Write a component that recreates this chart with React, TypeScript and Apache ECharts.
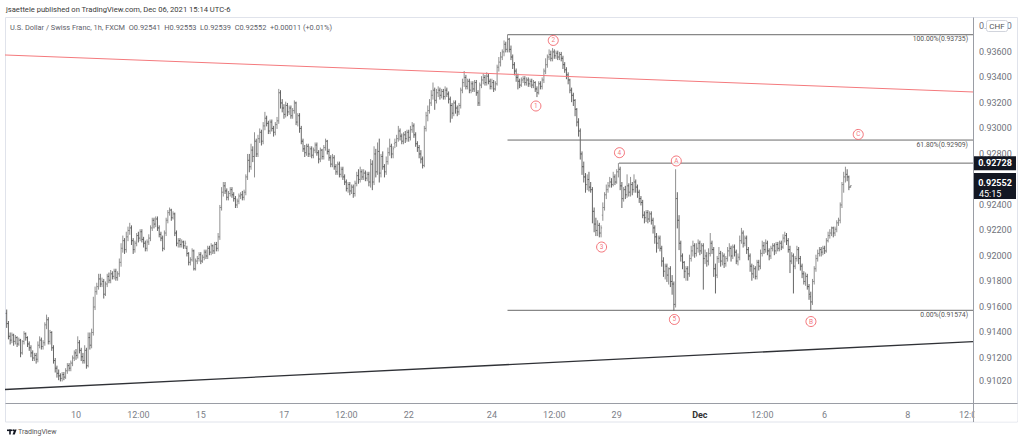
import React, { useEffect, useRef } from 'react';
import * as echarts from 'echarts';

// ---- USD/CHF 1h bars (Nov 8 08:00 .. Dec 6 15:00, UTC-6) ----
const opens = [
0.9155,0.9147,0.9137,0.9134,0.9138,0.9133,0.9136,0.9131,0.9134,0.9124,
0.9133,0.9139,0.9136,0.9131,0.9128,0.9124,0.9120,0.9122,0.9119,0.9130,
0.9134,0.9129,0.9132,0.9146,0.9150,0.9133,0.9140,0.9128,0.9118,0.9112,
0.9108,0.9106,0.9104,0.9107,0.9105,0.9110,0.9114,0.9112,0.9116,0.9120,
0.9124,0.9122,0.9132,0.9126,0.9121,0.9118,0.9126,0.9114,0.9136,0.9130,
0.9140,0.9160,0.9172,0.9176,0.9182,0.9178,0.9180,0.9170,0.9178,0.9184,
0.9181,0.9186,0.9184,0.9188,0.9183,0.9186,0.9195,0.9206,0.9212,0.9205,
0.9215,0.9220,0.9222,0.9212,0.9205,0.9210,0.9216,0.9214,0.9219,0.9213,
0.9210,0.9206,0.9211,0.9214,0.9222,0.9228,0.9225,0.9229,0.9222,0.9217,
0.9214,0.9206,0.9218,0.9228,0.9234,0.9236,0.9230,0.9233,0.9218,0.9210,
0.9212,0.9209,0.9211,0.9208,0.9206,0.9202,0.9195,0.9197,0.9204,0.9190,
0.9196,0.9198,0.9201,0.9196,0.9199,0.9203,0.9200,0.9206,0.9203,0.9208,
0.9204,0.9209,0.9206,0.9215,0.9238,0.9250,0.9255,0.9251,0.9246,0.9249,
0.9252,0.9248,0.9245,0.9240,0.9243,0.9247,0.9248,0.9246,0.9250,0.9262,
0.9275,0.9270,0.9283,0.9278,0.9290,0.9280,0.9292,0.9297,0.9290,0.9302,
0.9308,0.9304,0.9298,0.9305,0.9300,0.9297,0.9303,0.9306,0.9328,0.9320,
0.9316,0.9311,0.9318,0.9313,0.9316,0.9310,0.9314,0.9320,0.9305,0.9310,
0.9300,0.9290,0.9284,0.9281,0.9286,0.9280,0.9284,0.9279,0.9283,0.9287,
0.9281,0.9276,0.9283,0.9278,0.9285,0.9290,0.9282,0.9277,0.9272,0.9277,
0.9270,0.9266,0.9272,0.9264,0.9268,0.9262,0.9258,0.9253,0.9256,0.9251,
0.9254,0.9249,0.9257,0.9263,0.9260,0.9266,0.9262,0.9265,0.9261,0.9264,
0.9258,0.9272,0.9258,0.9280,0.9266,0.9282,0.9265,0.9278,0.9270,0.9266,
0.9274,0.9281,0.9286,0.9280,0.9288,0.9289,0.9292,0.9298,0.9294,0.9290,
0.9295,0.9292,0.9297,0.9293,0.9299,0.9302,0.9295,0.9288,0.9285,0.9280,
0.9276,0.9271,0.9300,0.9310,0.9314,0.9320,0.9326,0.9330,0.9322,0.9328,
0.9330,0.9326,0.9329,0.9325,0.9330,0.9327,0.9323,0.9318,0.9312,0.9320,
0.9316,0.9313,0.9318,0.9330,0.9336,0.9340,0.9333,0.9337,0.9330,0.9335,
0.9331,0.9336,0.9328,0.9320,0.9334,0.9338,0.9340,0.9336,0.9341,0.9337,
0.9333,0.9336,0.9331,0.9335,0.9348,0.9352,0.9356,0.9360,0.9366,0.9362,
0.9370,0.9362,0.9356,0.9350,0.9345,0.9340,0.9337,0.9334,0.9338,0.9339,
0.9336,0.9338,0.9335,0.9337,0.9334,0.9336,0.9331,0.9328,0.9335,0.9333,
0.9338,0.9345,0.9350,0.9356,0.9358,0.9355,0.9360,0.9357,0.9359,0.9356,
0.9358,0.9355,0.9350,0.9346,0.9342,0.9338,0.9330,0.9326,0.9322,0.9315,
0.9305,0.9298,0.9280,0.9270,0.9262,0.9256,0.9260,0.9254,0.9252,0.9235,
0.9225,0.9220,0.9224,0.9218,0.9232,0.9238,0.9248,0.9252,0.9255,0.9258,
0.9256,0.9262,0.9258,0.9266,0.9268,0.9255,0.9245,0.9252,0.9248,0.9255,
0.9250,0.9256,0.9252,0.9258,0.9254,0.9250,0.9245,0.9242,0.9232,0.9230,
0.9234,0.9229,0.9233,0.9228,0.9222,0.9215,0.9210,0.9214,0.9206,0.9196,
0.9188,0.9192,0.9185,0.9190,0.9180,0.9178,0.9162,0.9245,0.9228,0.9210,
0.9200,0.9195,0.9188,0.9190,0.9186,0.9198,0.9204,0.9208,0.9202,0.9206,
0.9210,0.9204,0.9208,0.9198,0.9200,0.9196,0.9202,0.9210,0.9205,0.9190,
0.9185,0.9198,0.9202,0.9196,0.9200,0.9194,0.9198,0.9204,0.9206,0.9200,
0.9207,0.9203,0.9196,0.9199,0.9212,0.9218,0.9210,0.9214,0.9205,0.9200,
0.9192,0.9186,0.9190,0.9184,0.9195,0.9192,0.9202,0.9208,0.9205,0.9210,
0.9204,0.9200,0.9206,0.9208,0.9204,0.9209,0.9206,0.9210,0.9207,0.9214,
0.9216,0.9212,0.9205,0.9196,0.9200,0.9192,0.9198,0.9205,0.9198,0.9192,
0.9186,0.9180,0.9184,0.9176,0.9168,0.9164,0.9180,0.9190,0.9198,0.9202,
0.9205,0.9203,0.9206,0.9204,0.9212,0.9216,0.9218,0.9222,0.9218,0.9221,
0.9226,0.9228,0.9240,0.9256,0.9262,0.9264,0.9262,0.92541
];
const highs = [
0.9158,0.9149,0.9140,0.9140,0.9139,0.9138,0.9137,0.9136,0.9135,0.9134,
0.9141,0.9140,0.9137,0.9133,0.9130,0.9126,0.9124,0.9124,0.9133,0.9137,
0.9136,0.9134,0.9148,0.9154,0.9152,0.9142,0.9141,0.9130,0.9120,0.9114,
0.9111,0.9108,0.9109,0.9109,0.9112,0.9116,0.9116,0.9118,0.9122,0.9126,
0.9127,0.9137,0.9134,0.9128,0.9124,0.9130,0.9128,0.9140,0.9140,0.9143,
0.9168,0.9176,0.9179,0.9186,0.9186,0.9183,0.9182,0.9180,0.9186,0.9187,
0.9189,0.9188,0.9190,0.9190,0.9188,0.9198,0.9210,0.9216,0.9214,0.9219,
0.9223,0.9226,0.9224,0.9214,0.9212,0.9218,0.9219,0.9221,0.9221,0.9215,
0.9212,0.9213,0.9217,0.9224,0.9230,0.9230,0.9231,0.9231,0.9224,0.9219,
0.9216,0.9220,0.9230,0.9236,0.9238,0.9237,0.9235,0.9234,0.9220,0.9214,
0.9214,0.9213,0.9212,0.9212,0.9208,0.9203,0.9199,0.9206,0.9205,0.9198,
0.9200,0.9203,0.9203,0.9201,0.9205,0.9205,0.9208,0.9208,0.9210,0.9209,
0.9211,0.9211,0.9218,0.9240,0.9254,0.9258,0.9258,0.9253,0.9251,0.9254,
0.9254,0.9250,0.9247,0.9245,0.9249,0.9250,0.9251,0.9252,0.9264,0.9280,
0.9280,0.9288,0.9286,0.9297,0.9292,0.9295,0.9300,0.9299,0.9305,0.9313,
0.9310,0.9306,0.9307,0.9307,0.9302,0.9305,0.9309,0.9331,0.9330,0.9323,
0.9319,0.9321,0.9320,0.9318,0.9318,0.9316,0.9322,0.9321,0.9312,0.9312,
0.9302,0.9292,0.9287,0.9288,0.9288,0.9286,0.9286,0.9285,0.9289,0.9289,
0.9283,0.9285,0.9284,0.9287,0.9292,0.9291,0.9284,0.9279,0.9280,0.9279,
0.9272,0.9274,0.9274,0.9270,0.9270,0.9264,0.9260,0.9258,0.9258,0.9256,
0.9256,0.9259,0.9266,0.9268,0.9270,0.9268,0.9268,0.9267,0.9266,0.9266,
0.9276,0.9275,0.9286,0.9284,0.9289,0.9292,0.9280,0.9282,0.9272,0.9278,
0.9285,0.9292,0.9288,0.9286,0.9292,0.9295,0.9302,0.9300,0.9296,0.9297,
0.9298,0.9299,0.9299,0.9302,0.9305,0.9304,0.9297,0.9290,0.9287,0.9283,
0.9278,0.9302,0.9313,0.9318,0.9323,0.9330,0.9336,0.9332,0.9331,0.9333,
0.9332,0.9331,0.9331,0.9333,0.9332,0.9329,0.9325,0.9320,0.9322,0.9322,
0.9318,0.9320,0.9332,0.9339,0.9345,0.9342,0.9339,0.9339,0.9337,0.9337,
0.9338,0.9338,0.9330,0.9336,0.9341,0.9343,0.9342,0.9344,0.9343,0.9339,
0.9339,0.9338,0.9337,0.9350,0.9356,0.9360,0.9362,0.9369,0.9368,0.93735,
0.9371,0.9365,0.9358,0.9352,0.9347,0.9343,0.9339,0.9340,0.9341,0.9341,
0.9340,0.9340,0.9339,0.9339,0.9338,0.9337,0.9333,0.9337,0.9337,0.9340,
0.9347,0.9355,0.9358,0.9362,0.9361,0.9363,0.9362,0.9361,0.9361,0.9360,
0.9360,0.9357,0.9352,0.9348,0.9344,0.9339,0.9332,0.9328,0.9323,0.9316,
0.9308,0.9300,0.9282,0.9274,0.9265,0.9264,0.9266,0.9258,0.9254,0.9238,
0.9230,0.9228,0.9226,0.9224,0.9242,0.9250,0.9256,0.9258,0.9262,0.9261,
0.9266,0.9264,0.9268,0.92728,0.9270,0.9258,0.9254,0.9255,0.9264,0.9257,
0.9262,0.9258,0.9264,0.9260,0.9256,0.9252,0.9247,0.9244,0.9235,0.9236,
0.9236,0.9235,0.9235,0.9230,0.9224,0.9218,0.9216,0.9216,0.9208,0.9199,
0.9194,0.9194,0.9191,0.9192,0.9185,0.9180,0.9268,0.9250,0.9232,0.9212,
0.9202,0.9196,0.9192,0.9192,0.9201,0.9208,0.9212,0.9210,0.9210,0.9213,
0.9212,0.9210,0.9210,0.9205,0.9203,0.9206,0.9218,0.9212,0.9207,0.9194,
0.9200,0.9207,0.9204,0.9203,0.9202,0.9200,0.9207,0.9210,0.9208,0.9209,
0.9209,0.9205,0.9202,0.9216,0.9222,0.9220,0.9216,0.9216,0.9207,0.9202,
0.9194,0.9193,0.9192,0.9197,0.9197,0.9205,0.9212,0.9211,0.9213,0.9212,
0.9206,0.9208,0.9210,0.9210,0.9211,0.9211,0.9212,0.9212,0.9217,0.9219,
0.9218,0.9214,0.9208,0.9203,0.9202,0.9200,0.9208,0.9207,0.9200,0.9194,
0.9188,0.9187,0.9186,0.9178,0.9172,0.9182,0.9192,0.9201,0.9205,0.9207,
0.9207,0.9208,0.9208,0.9214,0.9219,0.9221,0.9223,0.9223,0.9223,0.9228,
0.9230,0.9242,0.9258,0.9266,0.9270,0.9268,0.9263,0.92553
];
const lows = [
0.9144,0.9135,0.9131,0.9132,0.9130,0.9131,0.9129,0.9130,0.9121,0.9123,
0.9131,0.9134,0.9129,0.9126,0.9121,0.9118,0.9118,0.9116,0.9117,0.9128,
0.9127,0.9127,0.9130,0.9143,0.9131,0.9131,0.9126,0.9116,0.9109,0.9105,
0.9103,0.9102,0.9102,0.9103,0.9104,0.9108,0.9110,0.9110,0.9114,0.9118,
0.9119,0.9120,0.9124,0.9118,0.9116,0.9116,0.9112,0.9113,0.9127,0.9128,
0.9138,0.9158,0.9170,0.9174,0.9176,0.9176,0.9167,0.9169,0.9176,0.9179,
0.9179,0.9182,0.9182,0.9181,0.9181,0.9184,0.9192,0.9203,0.9202,0.9203,
0.9212,0.9217,0.9209,0.9202,0.9203,0.9208,0.9211,0.9212,0.9211,0.9207,
0.9204,0.9204,0.9209,0.9212,0.9220,0.9222,0.9223,0.9220,0.9215,0.9212,
0.9204,0.9205,0.9216,0.9226,0.9232,0.9228,0.9229,0.9216,0.9208,0.9207,
0.9207,0.9207,0.9206,0.9206,0.9200,0.9193,0.9193,0.9196,0.9189,0.9189,
0.9194,0.9196,0.9194,0.9195,0.9197,0.9198,0.9198,0.9201,0.9201,0.9202,
0.9202,0.9204,0.9204,0.9213,0.9236,0.9247,0.9249,0.9244,0.9244,0.9247,
0.9246,0.9243,0.9238,0.9238,0.9241,0.9245,0.9244,0.9244,0.9248,0.9260,
0.9266,0.9268,0.9274,0.9262,0.9278,0.9278,0.9289,0.9287,0.9288,0.9299,
0.9302,0.9296,0.9296,0.9298,0.9294,0.9295,0.9300,0.9304,0.9316,0.9313,
0.9308,0.9309,0.9310,0.9311,0.9308,0.9308,0.9312,0.9303,0.9302,0.9297,
0.9288,0.9282,0.9278,0.9279,0.9278,0.9278,0.9277,0.9277,0.9281,0.9279,
0.9273,0.9274,0.9276,0.9276,0.9283,0.9280,0.9275,0.9270,0.9270,0.9268,
0.9264,0.9264,0.9262,0.9262,0.9260,0.9256,0.9251,0.9250,0.9248,0.9249,
0.9246,0.9247,0.9255,0.9257,0.9258,0.9260,0.9260,0.9259,0.9259,0.9255,
0.9254,0.9252,0.9256,0.9262,0.9264,0.9258,0.9262,0.9268,0.9262,0.9264,
0.9272,0.9279,0.9277,0.9277,0.9285,0.9286,0.9290,0.9291,0.9288,0.9288,
0.9289,0.9290,0.9290,0.9291,0.9297,0.9293,0.9286,0.9282,0.9277,0.9273,
0.9269,0.9270,0.9298,0.9306,0.9312,0.9318,0.9323,0.9315,0.9320,0.9325,
0.9323,0.9324,0.9323,0.9323,0.9325,0.9320,0.9305,0.9308,0.9310,0.9312,
0.9310,0.9311,0.9316,0.9328,0.9333,0.9331,0.9331,0.9328,0.9328,0.9329,
0.9329,0.9326,0.9318,0.9318,0.9332,0.9335,0.9334,0.9334,0.9335,0.9331,
0.9331,0.9329,0.9330,0.9334,0.9345,0.9349,0.9354,0.9357,0.9360,0.9360,
0.9360,0.9354,0.9347,0.9342,0.9337,0.9331,0.9332,0.9333,0.9336,0.9334,
0.9334,0.9333,0.9333,0.9332,0.9332,0.9329,0.9325,0.9327,0.9331,0.9331,
0.9336,0.9343,0.9348,0.9354,0.9353,0.9353,0.9355,0.9355,0.9354,0.9354,
0.9353,0.9347,0.9344,0.9339,0.9335,0.9328,0.9321,0.9318,0.9310,0.9302,
0.9294,0.9276,0.9264,0.9258,0.9250,0.9252,0.9251,0.9250,0.9226,0.9219,
0.9216,0.9216,0.9215,0.9215,0.9228,0.9236,0.9245,0.9250,0.9254,0.9254,
0.9255,0.9256,0.9257,0.9262,0.9252,0.9238,0.9243,0.9245,0.9246,0.9247,
0.9247,0.9248,0.9250,0.9250,0.9246,0.9242,0.9240,0.9230,0.9226,0.9227,
0.9226,0.9227,0.9225,0.9218,0.9210,0.9203,0.9206,0.9204,0.9192,0.9184,
0.9182,0.9180,0.9178,0.9176,0.9170,0.91574,0.9160,0.9222,0.9205,0.9196,
0.9190,0.9183,0.9181,0.9181,0.9184,0.9196,0.9200,0.9199,0.9200,0.9203,
0.9201,0.9202,0.9174,0.9194,0.9192,0.9193,0.9200,0.9202,0.9184,0.9171,
0.9183,0.9195,0.9192,0.9193,0.9191,0.9192,0.9196,0.9200,0.9196,0.9198,
0.9200,0.9194,0.9193,0.9197,0.9210,0.9207,0.9208,0.9202,0.9197,0.9188,
0.9181,0.9183,0.9182,0.9182,0.9189,0.9190,0.9200,0.9202,0.9203,0.9201,
0.9197,0.9198,0.9204,0.9201,0.9202,0.9204,0.9204,0.9205,0.9206,0.9211,
0.9209,0.9203,0.9187,0.9194,0.9171,0.9190,0.9196,0.9194,0.9189,0.9183,
0.9178,0.9177,0.9174,0.9166,0.9158,0.9162,0.9178,0.9188,0.9196,0.9200,
0.9200,0.9201,0.9202,0.9203,0.9211,0.9214,0.9216,0.9215,0.9216,0.9219,
0.9224,0.9226,0.9238,0.9250,0.9258,0.9259,0.9252,0.92539
];
const closes = [
0.9147,0.9137,0.9134,0.9138,0.9133,0.9136,0.9131,0.9134,0.9124,0.9133,
0.9139,0.9136,0.9131,0.9128,0.9124,0.9120,0.9122,0.9119,0.9130,0.9134,
0.9129,0.9132,0.9146,0.9150,0.9133,0.9140,0.9128,0.9118,0.9112,0.9108,
0.9106,0.9104,0.9107,0.9105,0.9110,0.9114,0.9112,0.9116,0.9120,0.9124,
0.9122,0.9132,0.9126,0.9121,0.9118,0.9126,0.9114,0.9136,0.9130,0.9140,
0.9160,0.9172,0.9176,0.9182,0.9178,0.9180,0.9170,0.9178,0.9184,0.9181,
0.9186,0.9184,0.9188,0.9183,0.9186,0.9195,0.9206,0.9212,0.9205,0.9215,
0.9220,0.9222,0.9212,0.9205,0.9210,0.9216,0.9214,0.9219,0.9213,0.9210,
0.9206,0.9211,0.9214,0.9222,0.9228,0.9225,0.9229,0.9222,0.9217,0.9214,
0.9206,0.9218,0.9228,0.9234,0.9236,0.9230,0.9233,0.9218,0.9210,0.9212,
0.9209,0.9211,0.9208,0.9210,0.9202,0.9195,0.9197,0.9204,0.9190,0.9196,
0.9198,0.9201,0.9196,0.9199,0.9203,0.9200,0.9206,0.9203,0.9208,0.9204,
0.9209,0.9206,0.9215,0.9238,0.9250,0.9255,0.9251,0.9246,0.9249,0.9252,
0.9248,0.9245,0.9240,0.9243,0.9247,0.9248,0.9246,0.9250,0.9262,0.9275,
0.9270,0.9283,0.9278,0.9290,0.9280,0.9292,0.9297,0.9290,0.9302,0.9308,
0.9304,0.9298,0.9305,0.9300,0.9297,0.9303,0.9306,0.9328,0.9320,0.9316,
0.9311,0.9318,0.9313,0.9316,0.9310,0.9314,0.9320,0.9305,0.9310,0.9300,
0.9290,0.9284,0.9281,0.9286,0.9280,0.9284,0.9279,0.9283,0.9287,0.9281,
0.9276,0.9283,0.9278,0.9285,0.9290,0.9282,0.9277,0.9272,0.9277,0.9270,
0.9266,0.9272,0.9264,0.9268,0.9262,0.9258,0.9253,0.9256,0.9251,0.9254,
0.9249,0.9257,0.9263,0.9260,0.9266,0.9262,0.9265,0.9261,0.9264,0.9258,
0.9272,0.9258,0.9280,0.9266,0.9282,0.9265,0.9278,0.9270,0.9266,0.9274,
0.9281,0.9286,0.9280,0.9284,0.9289,0.9292,0.9298,0.9294,0.9290,0.9295,
0.9292,0.9297,0.9293,0.9299,0.9302,0.9295,0.9288,0.9285,0.9280,0.9276,
0.9271,0.9300,0.9310,0.9314,0.9320,0.9326,0.9330,0.9322,0.9328,0.9330,
0.9326,0.9329,0.9325,0.9330,0.9327,0.9323,0.9318,0.9312,0.9320,0.9316,
0.9313,0.9318,0.9330,0.9336,0.9340,0.9333,0.9337,0.9330,0.9335,0.9331,
0.9336,0.9328,0.9320,0.9334,0.9338,0.9340,0.9336,0.9341,0.9337,0.9333,
0.9336,0.9331,0.9335,0.9348,0.9352,0.9356,0.9360,0.9366,0.9362,0.9370,
0.9362,0.9356,0.9350,0.9345,0.9340,0.9337,0.9334,0.9338,0.9339,0.9336,
0.9338,0.9335,0.9337,0.9334,0.9336,0.9331,0.9328,0.9335,0.9333,0.9338,
0.9345,0.9350,0.9356,0.9358,0.9355,0.9360,0.9357,0.9359,0.9356,0.9358,
0.9355,0.9350,0.9346,0.9342,0.9338,0.9330,0.9326,0.9322,0.9315,0.9305,
0.9298,0.9280,0.9270,0.9262,0.9256,0.9260,0.9254,0.9252,0.9235,0.9225,
0.9220,0.9224,0.9218,0.9222,0.9238,0.9248,0.9252,0.9255,0.9258,0.9256,
0.9262,0.9258,0.9266,0.9268,0.9255,0.9245,0.9252,0.9248,0.9255,0.9250,
0.9256,0.9252,0.9258,0.9254,0.9250,0.9245,0.9242,0.9232,0.9230,0.9234,
0.9229,0.9233,0.9228,0.9222,0.9215,0.9210,0.9214,0.9206,0.9196,0.9188,
0.9192,0.9185,0.9190,0.9180,0.9178,0.9162,0.9245,0.9228,0.9210,0.9200,
0.9195,0.9188,0.9190,0.9186,0.9198,0.9204,0.9208,0.9202,0.9206,0.9210,
0.9204,0.9208,0.9198,0.9200,0.9196,0.9202,0.9210,0.9205,0.9190,0.9185,
0.9198,0.9202,0.9196,0.9200,0.9194,0.9198,0.9204,0.9206,0.9200,0.9207,
0.9203,0.9196,0.9199,0.9212,0.9218,0.9210,0.9214,0.9205,0.9200,0.9192,
0.9186,0.9190,0.9184,0.9195,0.9192,0.9202,0.9208,0.9205,0.9210,0.9204,
0.9200,0.9206,0.9208,0.9204,0.9209,0.9206,0.9210,0.9207,0.9214,0.9216,
0.9212,0.9205,0.9196,0.9200,0.9192,0.9198,0.9205,0.9198,0.9192,0.9186,
0.9180,0.9184,0.9176,0.9170,0.9164,0.9180,0.9190,0.9198,0.9202,0.9205,
0.9203,0.9206,0.9204,0.9212,0.9216,0.9218,0.9222,0.9218,0.9221,0.9226,
0.9228,0.9240,0.9256,0.9262,0.9264,0.9262,0.9254,0.92552
];

// ---- axes ----
const FIRST_BAR = '2021-11-08 08:00';
const X_MIN = -0.98;
const X_MAX = 557.62;
const Y_MIN = 0.908471;
const Y_MAX = 0.938739;
const tickTimes = ['2021-11-10 00:00', '2021-11-11 12:00', '2021-11-15 00:00', '2021-11-17 00:00', '2021-11-18 12:00', '2021-11-22 00:00', '2021-11-24 00:00', '2021-11-25 12:00', '2021-11-29 00:00', '2021-12-01 00:00', '2021-12-02 12:00', '2021-12-06 00:00', '2021-12-08 00:00', '2021-12-09 12:00'];
const tickTexts = ['10', '12:00', '15', '17', '12:00', '22', '24', '12:00', '29', 'Dec', '12:00', '6', '8', '12:00'];
const priceTicks = [0.938, 0.936, 0.934, 0.932, 0.93, 0.928, 0.926, 0.924, 0.922, 0.92, 0.918, 0.916, 0.914, 0.912, 0.9102];

// ---- drawings ----
const resistanceLine = [[X_MIN, 0.93576], [X_MAX, 0.93286]];
const supportLine = [[X_MIN, 0.90953], [X_MAX, 0.91329]];
const fibStart = 289;
const fibLevels = [0.93735, 0.92909, 0.91574];
const fibTexts = ['100.00%(0.93735)', '61.80%(0.92909)', '0.00%(0.91574)'];
const levelA = 0.92728;
const levelAStart = 353.3;
const waveLabels = ['1', '2', '3', '4', '5', 'A', 'B', 'C'];
const waveX = [305.4, 315.4, 343.3, 353.6, 385.3, 386.4, 464.1, 491.4];
const waveY = [0.93176, 0.9369, 0.9207, 0.9281, 0.91502, 0.92745, 0.91486, 0.92953];
const lastPrice = 0.92552;
const countdown = '45:15';

const headerLine1 = 'jsaettele published on TradingView.com, Dec 06, 2021 15:14 UTC-6';
const headerLine2 = 'U.S. Dollar / Swiss Franc, 1h, FXCM  O0.92541  H0.92553  L0.92539  C0.92552  +0.00011 (+0.01%)';

const FONT = 'Roboto, "DejaVu Sans", sans-serif';
const RED = '#f0525a';

function parseT(s: string) {
  const [d, t] = s.split(' ');
  const [y, m, dd] = d.split('-').map(Number);
  const [h] = t.split(':').map(Number);
  return Date.UTC(y, m - 1, dd, h);
}
function isOpen(ms: number) {
  const dt = new Date(ms);
  const wd = dt.getUTCDay();
  const h = dt.getUTCHours();
  if (wd === 6) return false;
  if (wd === 5 && h >= 16) return false;
  if (wd === 0 && h < 16) return false;
  return true;
}
function slotIndex(ms: number) {
  let idx = 0;
  for (let t = parseT(FIRST_BAR); t < ms; t += 3600000) if (isOpen(t)) idx++;
  return idx;
}

export default function App() {
  const ref = useRef<HTMLDivElement>(null);
  useEffect(() => {
    const chart = echarts.init(ref.current!, null, { renderer: 'svg' });
    const tickIdx = tickTimes.map((s) => slotIndex(parseT(s)));
    const labelMap: Record<number, string> = {};
    tickIdx.forEach((v, i) => (labelMap[v] = tickTexts[i]));
    const ohlc = opens.map((o, i) => [i, o, highs[i], lows[i], closes[i]]);
    const lineSeries = (data: number[][], color: string, width: number) => ({
      type: 'line', data, symbol: 'none', silent: true, clip: true,
      lineStyle: { color, width }, z: 3,
    });
    chart.setOption({
      animation: false,
      backgroundColor: '#ffffff',
      grid: { left: 5, right: 51, top: 17, bottom: 39 },
      xAxis: {
        type: 'value', min: X_MIN, max: X_MAX,
        axisLine: { show: false }, axisTick: { show: false }, splitLine: { show: false },
        axisLabel: {
          customValues: tickIdx,
          formatter: (v: number) => (labelMap[v] === 'Dec' ? '{b|Dec}' : labelMap[v] ?? ''),
          color: '#7b7e87', fontSize: 9, fontFamily: FONT, margin: 7,
          rich: { b: { fontWeight: 'bold', color: '#333', fontSize: 9, fontFamily: FONT } },
        },
      },
      yAxis: {
        type: 'value', position: 'right', min: Y_MIN, max: Y_MAX,
        axisLine: { show: false }, axisTick: { show: false }, splitLine: { show: false },
        axisLabel: {
          customValues: priceTicks,
          formatter: (v: number) => v.toFixed(5),
          color: '#6f727b', fontSize: 9, fontFamily: FONT, margin: 6,
        },
      },
      series: [
        {
          type: 'custom', data: ohlc, encode: { x: 0, y: [1, 2, 3, 4] }, clip: true, silent: true, z: 2,
          renderItem: (params: any, api: any) => {
            const i = api.value(0);
            const o = api.coord([i, api.value(1)]);
            const h = api.coord([i, api.value(2)]);
            const l = api.coord([i, api.value(3)]);
            const c = api.coord([i, api.value(4)]);
            const x = o[0];
            const col = api.value(4) >= api.value(1) ? '#858585' : '#555555';
            const st = { stroke: col, lineWidth: 0.9 };
            return {
              type: 'group',
              children: [
                { type: 'line', shape: { x1: x, y1: h[1], x2: x, y2: l[1] + 0.5 }, style: st },
                { type: 'line', shape: { x1: x - 1, y1: o[1], x2: x, y2: o[1] }, style: st },
                { type: 'line', shape: { x1: x, y1: c[1], x2: x + 1, y2: c[1] }, style: st },
              ],
            };
          },
        },
        lineSeries(resistanceLine, '#f47a7d', 1),
        lineSeries(supportLine, '#2f3136', 1.3),
        ...fibLevels.map((lv) => lineSeries([[fibStart, lv], [X_MAX, lv]], '#6a6a6a', 1)),
        lineSeries([[levelAStart, levelA], [X_MAX, levelA]], '#6a6a6a', 1),
        {
          type: 'scatter', silent: true, z: 5,
          data: waveLabels.map((t, i) => [waveX[i], waveY[i], t]),
          symbol: 'circle', symbolSize: 10,
          itemStyle: { color: '#ffffff', borderColor: RED, borderWidth: 1 },
          label: {
            show: true, position: 'inside', formatter: (p: any) => p.data[2],
            color: RED, fontSize: 6.5, fontFamily: FONT,
          },
        },
      ],
    });

    const py = (v: number) => chart.convertToPixel({ yAxisIndex: 0 }, v) as number;
    const yA = py(levelA);
    const yL = py(lastPrice);
    const graphic: any[] = [
      { type: 'rect', z: 1, silent: true, shape: { x: 5.5, y: 17.5, width: 1012, height: 404.5 }, style: { fill: 'none', stroke: '#e0e3eb', lineWidth: 1 } },
      { type: 'text', z: 100, silent: true, style: { text: headerLine1, x: 6, y: 9, font: `7.6px ${FONT}`, fill: '#3a3a3a', textVerticalAlign: 'middle' } },
      { type: 'text', z: 100, silent: true, style: { text: headerLine2, x: 10, y: 27, font: `7.4px ${FONT}`, fill: '#5d6068', textVerticalAlign: 'middle' } },
      ...fibLevels.map((lv, i) => ({
        type: 'text', z: 100, silent: true,
        style: { text: fibTexts[i], x: 968, y: py(lv) + 1, font: `6.8px ${FONT}`, fill: '#555', textAlign: 'right', textVerticalAlign: 'top' },
      })),
      { type: 'rect', z: 100, silent: true, shape: { x: 974.5, y: 404, width: 43, height: 17.5 }, style: { fill: '#ffffff' } },
      { type: 'line', z: 101, silent: true, shape: { x1: 973.5, y1: 17.5, x2: 973.5, y2: 422 }, style: { stroke: '#9a9da5', lineWidth: 1 } },
      { type: 'line', z: 101, silent: true, shape: { x1: 5.5, y1: 403.5, x2: 1017.5, y2: 403.5 }, style: { stroke: '#9a9da5', lineWidth: 1 } },
      { type: 'rect', z: 102, silent: true, shape: { x: 974, y: yA - 7, width: 42, height: 14 }, style: { fill: '#131722' } },
      { type: 'text', z: 103, silent: true, style: { text: levelA.toFixed(5), x: 995, y: yA, font: `bold 9px ${FONT}`, fill: '#ffffff', textAlign: 'center', textVerticalAlign: 'middle' } },
      { type: 'rect', z: 102, silent: true, shape: { x: 974, y: yL - 12.5, width: 42, height: 26 }, style: { fill: '#131722' } },
      { type: 'text', z: 103, silent: true, style: { text: lastPrice.toFixed(5), x: 995, y: yL - 3, font: `bold 9px ${FONT}`, fill: '#ffffff', textAlign: 'center', textVerticalAlign: 'middle' } },
      { type: 'text', z: 103, silent: true, style: { text: countdown, x: 979, y: yL + 8, font: `9px ${FONT}`, fill: '#ffffff', textAlign: 'left', textVerticalAlign: 'middle' } },
      { type: 'rect', z: 102, silent: true, shape: { x: 986.5, y: 20.5, width: 21, height: 11, r: 2 }, style: { fill: '#ffffff', stroke: '#d1d4dc', lineWidth: 1 } },
      { type: 'text', z: 103, silent: true, style: { text: 'CHF', x: 997, y: 26, font: `8px ${FONT}`, fill: '#555', textAlign: 'center', textVerticalAlign: 'middle' } },
      { type: 'rect', z: 100, silent: true, shape: { x: 7, y: 429.5, width: 5, height: 1.6 }, style: { fill: '#131722' } },
      { type: 'rect', z: 100, silent: true, shape: { x: 9.2, y: 429.5, width: 1.6, height: 5 }, style: { fill: '#131722' } },
      { type: 'circle', z: 100, silent: true, shape: { cx: 13.2, cy: 430.3, r: 0.9 }, style: { fill: '#131722' } },
      { type: 'polygon', z: 100, silent: true, shape: { points: [[14.4, 429.5], [16.6, 429.5], [14.8, 434.5], [12.6, 434.5]] }, style: { fill: '#131722' } },
      { type: 'text', z: 100, silent: true, style: { text: 'TradingView', x: 18, y: 432, font: `7px ${FONT}`, fill: '#555', textVerticalAlign: 'middle' } },
    ];
    chart.setOption({ graphic });
    return () => chart.dispose();
  }, []);
  return <div ref={ref} style={{ position: 'fixed', left: 0, top: 0, width: 1024, height: 442, background: '#fff' }} />;
}
